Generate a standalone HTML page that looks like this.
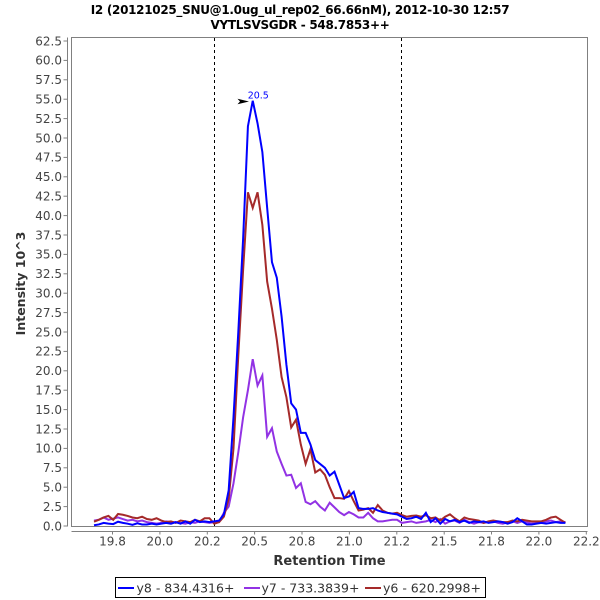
<!DOCTYPE html>
<html>
<head>
<meta charset="utf-8">
<style>
  html, body { margin: 0; padding: 0; background: #fff; }
  svg { display: block; }
  text { font-family: "DejaVu Sans", "Liberation Sans", sans-serif; }
</style>
</head>
<body>
<svg width="600" height="600" viewBox="0 0 600 600" xmlns="http://www.w3.org/2000/svg">
  <rect x="0" y="0" width="600" height="600" fill="#ffffff"/>

  <!-- Title -->
  <text x="300" y="14" text-anchor="middle" font-weight="bold" font-size="12" letter-spacing="-0.3" fill="#000">I2 (20121025_SNU@1.0ug_ul_rep02_66.66nM), 2012-10-30 12:57</text>
  <text x="300" y="29" text-anchor="middle" font-weight="bold" font-size="12" letter-spacing="-0.3" fill="#000">VYTLSVSGDR - 548.7853++</text>

  <!-- Plot border -->
  <rect x="71.5" y="37.5" width="516" height="489" fill="none" stroke="#808080" stroke-width="1"/>

  <!-- Y axis -->
  <line x1="67.5" y1="37.5" x2="67.5" y2="526.5" stroke="#808080" stroke-width="1"/>
  <g stroke="#808080" stroke-width="1">
    <line x1="63.5" y1="526" x2="67.5" y2="526"/>
    <line x1="63.5" y1="506.6" x2="67.5" y2="506.6"/>
    <line x1="63.5" y1="487.2" x2="67.5" y2="487.2"/>
    <line x1="63.5" y1="467.8" x2="67.5" y2="467.8"/>
    <line x1="63.5" y1="448.4" x2="67.5" y2="448.4"/>
    <line x1="63.5" y1="429" x2="67.5" y2="429"/>
    <line x1="63.5" y1="409.6" x2="67.5" y2="409.6"/>
    <line x1="63.5" y1="390.2" x2="67.5" y2="390.2"/>
    <line x1="63.5" y1="370.8" x2="67.5" y2="370.8"/>
    <line x1="63.5" y1="351.4" x2="67.5" y2="351.4"/>
    <line x1="63.5" y1="332" x2="67.5" y2="332"/>
    <line x1="63.5" y1="312.6" x2="67.5" y2="312.6"/>
    <line x1="63.5" y1="293.2" x2="67.5" y2="293.2"/>
    <line x1="63.5" y1="273.8" x2="67.5" y2="273.8"/>
    <line x1="63.5" y1="254.4" x2="67.5" y2="254.4"/>
    <line x1="63.5" y1="235" x2="67.5" y2="235"/>
    <line x1="63.5" y1="215.6" x2="67.5" y2="215.6"/>
    <line x1="63.5" y1="196.2" x2="67.5" y2="196.2"/>
    <line x1="63.5" y1="176.8" x2="67.5" y2="176.8"/>
    <line x1="63.5" y1="157.4" x2="67.5" y2="157.4"/>
    <line x1="63.5" y1="138" x2="67.5" y2="138"/>
    <line x1="63.5" y1="118.6" x2="67.5" y2="118.6"/>
    <line x1="63.5" y1="99.2" x2="67.5" y2="99.2"/>
    <line x1="63.5" y1="79.8" x2="67.5" y2="79.8"/>
    <line x1="63.5" y1="60.4" x2="67.5" y2="60.4"/>
    <line x1="63.5" y1="41" x2="67.5" y2="41"/>
  </g>
  <g font-size="12" fill="#444" text-anchor="end">
    <text x="62" y="530.3">0.0</text>
    <text x="62" y="510.9">2.5</text>
    <text x="62" y="491.5">5.0</text>
    <text x="62" y="472.1">7.5</text>
    <text x="62" y="452.7">10.0</text>
    <text x="62" y="433.3">12.5</text>
    <text x="62" y="413.9">15.0</text>
    <text x="62" y="394.5">17.5</text>
    <text x="62" y="375.1">20.0</text>
    <text x="62" y="355.7">22.5</text>
    <text x="62" y="336.3">25.0</text>
    <text x="62" y="316.9">27.5</text>
    <text x="62" y="297.5">30.0</text>
    <text x="62" y="278.1">32.5</text>
    <text x="62" y="258.7">35.0</text>
    <text x="62" y="239.3">37.5</text>
    <text x="62" y="219.9">40.0</text>
    <text x="62" y="200.5">42.5</text>
    <text x="62" y="181.1">45.0</text>
    <text x="62" y="161.7">47.5</text>
    <text x="62" y="142.3">50.0</text>
    <text x="62" y="122.9">52.5</text>
    <text x="62" y="103.5">55.0</text>
    <text x="62" y="84.1">57.5</text>
    <text x="62" y="64.7">60.0</text>
    <text x="62" y="45.3">62.5</text>
  </g>

  <!-- X axis -->
  <line x1="71.5" y1="531.5" x2="587.5" y2="531.5" stroke="#808080" stroke-width="1"/>
  <g stroke="#808080" stroke-width="1">
    <line x1="112.5" y1="531.5" x2="112.5" y2="534.5"/>
    <line x1="159.9" y1="531.5" x2="159.9" y2="534.5"/>
    <line x1="207.3" y1="531.5" x2="207.3" y2="534.5"/>
    <line x1="254.6" y1="531.5" x2="254.6" y2="534.5"/>
    <line x1="302" y1="531.5" x2="302" y2="534.5"/>
    <line x1="349.4" y1="531.5" x2="349.4" y2="534.5"/>
    <line x1="396.8" y1="531.5" x2="396.8" y2="534.5"/>
    <line x1="444.2" y1="531.5" x2="444.2" y2="534.5"/>
    <line x1="491.5" y1="531.5" x2="491.5" y2="534.5"/>
    <line x1="538.9" y1="531.5" x2="538.9" y2="534.5"/>
    <line x1="586.3" y1="531.5" x2="586.3" y2="534.5"/>
  </g>
  <g font-size="12" fill="#444" text-anchor="middle">
    <text x="112.5" y="545.5">19.8</text>
    <text x="159.9" y="545.5">20.0</text>
    <text x="207.3" y="545.5">20.2</text>
    <text x="254.6" y="545.5">20.5</text>
    <text x="302" y="545.5">20.8</text>
    <text x="349.4" y="545.5">21.0</text>
    <text x="396.8" y="545.5">21.2</text>
    <text x="444.2" y="545.5">21.5</text>
    <text x="491.5" y="545.5">21.8</text>
    <text x="538.9" y="545.5">22.0</text>
    <text x="586.3" y="545.5">22.2</text>
  </g>

  <!-- Axis labels -->
  <text x="329.5" y="565" text-anchor="middle" font-weight="bold" font-size="13" fill="#333">Retention Time</text>
  <text transform="translate(25,283.5) rotate(-90)" text-anchor="middle" font-weight="bold" font-size="12.5" fill="#333">Intensity 10^3</text>

  <!-- Dashed boundary lines -->
  <line x1="214.5" y1="38" x2="214.5" y2="526" stroke="#000" stroke-width="1" stroke-dasharray="3,3"/>
  <line x1="401.5" y1="38" x2="401.5" y2="526" stroke="#000" stroke-width="1" stroke-dasharray="3,3"/>

  <!-- Series -->
  <g transform="translate(94,526) scale(4.81,-7.76)">
    <polyline fill="none" stroke="#9232e4" stroke-width="2" vector-effect="non-scaling-stroke"
      points="0,0.7 1,0.8 2,1.1 3,0.8 4,0.95 5,1.1 6,0.9 7,0.7 8,0.8 9,0.6 10,0.7 11,0.5 12,0.4 13,0.3 14,0.4 15,0.6 16,0.5 17,0.5 18,0.4 19,0.3 20,0.5 21,0.4 22,0.6 23,0.5 24,0.4 25,0.5 26,0.5 27,1.7 28,2.5 29,5.5 30,9.5 31,14 32,17.5 33,21.5 34,18.1 35,19.4 36,11.5 37,12.6 38,9.6 39,8 40,6.5 41,6.6 42,4.9 43,5.5 44,3.1 45,2.8 46,3.2 47,2.5 48,2.0 49,3.0 50,2.4 51,1.8 52,1.4 53,1.8 54,1.5 55,1.1 56,1.1 57,1.7 58,1.0 59,0.6 60,0.6 61,0.7 62,0.8 63,0.8 64,0.4 65,0.5 66,0.6 67,0.4 68,0.5 69,0.6 70,0.8 71,0.5 72,0.9 73,0.3 74,0.6 75,0.7 76,0.4 77,0.8 78,0.5 79,0.3 80,0.5 81,0.4 82,0.5 83,0.6 84,0.4 85,0.3 86,0.5 87,0.6 88,0.4 89,0.6 90,0.5 91,0.3 92,0.4 93,0.5 94,0.6 95,0.7 96,0.5 97,0.6 98,0.5"/>
    <polyline fill="none" stroke="#a52a2a" stroke-width="2" vector-effect="non-scaling-stroke"
      points="0,0.55 1,0.8 2,1.1 3,1.3 4,0.8 5,1.55 6,1.45 7,1.3 8,1.1 9,1.0 10,1.2 11,0.9 12,0.8 13,1.0 14,0.7 15,0.5 16,0.6 17,0.4 18,0.7 19,0.6 20,0.5 21,0.8 22,0.6 23,1.0 24,1.0 25,0.3 26,0.5 27,1.2 28,3.5 29,10 30,22 31,33 32,43 33,41 34,43 35,38.8 36,31.5 37,28 38,24 39,19.2 40,16.6 41,12.7 42,13.7 43,10.5 44,8.0 45,9.9 46,6.9 47,7.3 48,6.6 49,5.0 50,3.6 51,3.6 52,3.5 53,4.5 54,3.2 55,2.0 56,2.1 57,2.3 58,1.7 59,2.7 60,2.0 61,1.7 62,1.6 63,1.7 64,1.4 65,1.2 66,1.3 67,1.35 68,1.2 69,1.4 70,1.0 71,1.1 72,0.7 73,1.2 74,1.5 75,1.0 76,0.6 77,1.1 78,0.9 79,0.8 80,0.7 81,0.4 82,0.6 83,0.7 84,0.6 85,0.5 86,0.5 87,0.7 88,0.6 89,0.8 90,0.7 91,0.6 92,0.6 93,0.6 94,0.8 95,1.1 96,1.2 97,0.8 98,0.4"/>
    <polyline fill="none" stroke="#0000ff" stroke-width="2" vector-effect="non-scaling-stroke"
      points="0,0.1 1,0.2 2,0.4 3,0.3 4,0.25 5,0.55 6,0.4 7,0.3 8,0.15 9,0.35 10,0.2 11,0.2 12,0.3 13,0.2 14,0.3 15,0.4 16,0.3 17,0.5 18,0.3 19,0.6 20,0.3 21,0.8 22,0.5 23,0.6 24,0.5 25,0.6 26,0.7 27,1.5 28,4.6 29,14 30,25 31,37 32,51.5 33,54.8 34,51.9 35,48.2 36,41 37,34 38,32 39,27 40,20.8 41,15.8 42,15 43,12 44,12 45,10.5 46,8.5 47,8 48,7.5 49,6.5 50,7 51,5.3 52,3.6 53,3.8 54,4.4 55,2.3 56,2.2 57,2.2 58,2.3 59,2.0 60,1.8 61,1.7 62,1.6 63,1.5 64,1.2 65,0.9 66,1.0 67,1.2 68,0.9 69,1.7 70,0.5 71,1.0 72,0.3 73,0.9 74,0.6 75,0.8 76,0.5 77,0.7 78,0.4 79,0.6 80,0.5 81,0.6 82,0.4 83,0.5 84,0.6 85,0.5 86,0.3 87,0.5 88,1.0 89,0.6 90,0.2 91,0.2 92,0.3 93,0.4 94,0.3 95,0.4 96,0.5 97,0.4 98,0.4"/>
  </g>

  <!-- Peak annotation -->
  <polygon points="237.5,98.8 249,101.5 237.5,104.2 240,101.5" fill="#000"/>
  <text x="247.7" y="98.3" font-size="9.5" fill="#0000ff">20.5</text>

  <!-- Legend -->
  <rect x="115.5" y="577.5" width="370" height="20" fill="#fff" stroke="#000" stroke-width="1"/>
  <line x1="118" y1="588" x2="134" y2="588" stroke="#0000ff" stroke-width="2"/>
  <text x="136.5" y="592.5" font-size="12.5" fill="#333">y8 - 834.4316+</text>
  <line x1="244" y1="588" x2="260" y2="588" stroke="#9232e4" stroke-width="2"/>
  <text x="261.5" y="592.5" font-size="12.5" fill="#333">y7 - 733.3839+</text>
  <line x1="365" y1="588" x2="381" y2="588" stroke="#a52a2a" stroke-width="2"/>
  <text x="383" y="592.5" font-size="12.5" fill="#333">y6 - 620.2998+</text>
</svg>
</body>
</html>
